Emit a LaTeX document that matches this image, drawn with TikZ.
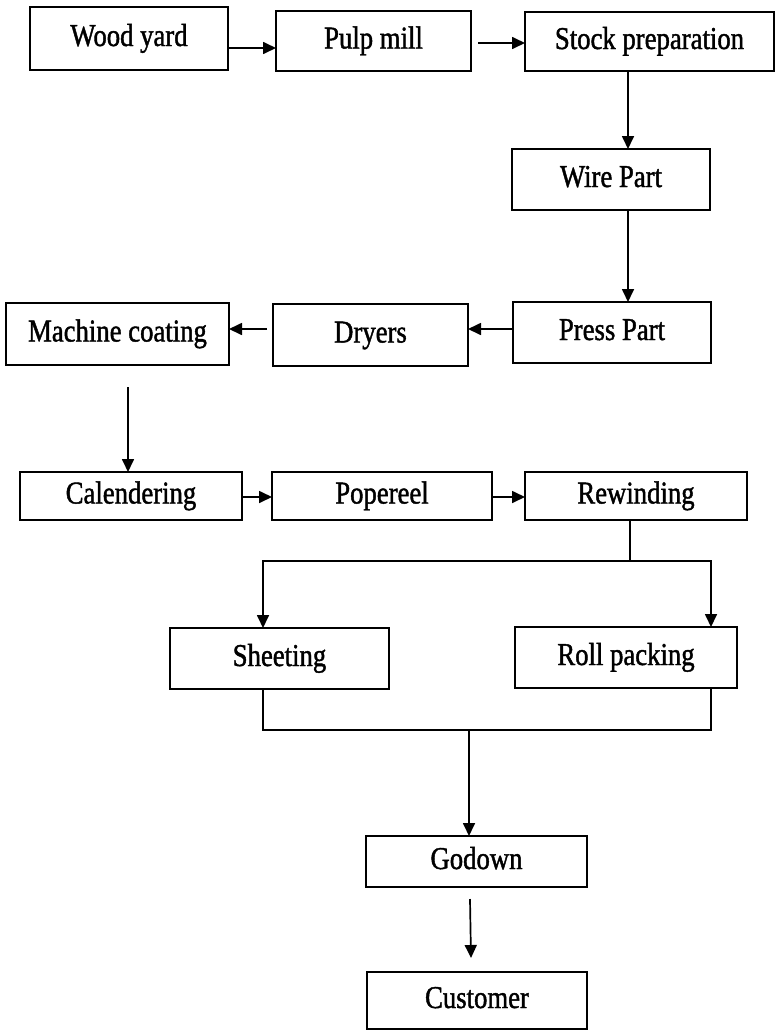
\documentclass[tikz,border=0pt]{standalone}
\usepackage{fontspec}
\setmainfont{Liberation Serif}[FakeStretch=0.84,FakeBold=1.3]
\usetikzlibrary{arrows.meta,calc}
\tikzset{
  pbox/.style={draw, line width=2pt, inner sep=0pt, outer sep=0pt,
    font=\fontsize{31.8}{34}\selectfont, text height=21pt, text depth=6pt},
  conn/.style={line width=1.7pt},
  arr/.style={conn, -{Triangle[length=13pt,width=12pt]}}
}
\newcommand{\pbx}[6]{\node[pbox, minimum width=#4pt, minimum height=#5pt] (#1) at (#2,#3) {#6};}
\begin{document}
\begin{tikzpicture}[x=1pt,y=-1pt]
\useasboundingbox (0,0) rectangle (778,1031);
\pbx{wy}{129}{38.5}{198}{63}{Wood yard}
\pbx{pm}{373.5}{41}{195}{60}{Pulp mill}
\pbx{sp}{649.5}{41.5}{249}{59}{Stock preparation}
\pbx{wp}{611}{179.5}{198}{61}{Wire Part}
\pbx{pp}{612}{332.5}{198}{61}{Press Part}
\pbx{dr}{370.5}{335}{195}{62}{Dryers}
\pbx{mc}{117.5}{334}{223}{62}{Machine coating}
\pbx{cal}{131}{496}{222}{48}{Calendering}
\pbx{pop}{382}{496}{220}{48}{Popereel}
\pbx{rew}{636}{496}{222}{48}{Rewinding}
\pbx{sh}{279.5}{658.5}{219}{61}{Sheeting}
\pbx{rp}{626}{657.5}{222}{61}{Roll packing}
\pbx{gd}{476.5}{861.5}{221}{51}{Godown}
\pbx{cu}{477}{1000.5}{220}{57}{Customer}
% connector start points
\coordinate (a1) at ([yshift=-9.5pt]wy.east);
\coordinate (a2) at ([xshift=7pt,yshift=-2pt]pm.east);
\coordinate (a3) at ([xshift=-21.5pt]sp.south);
\coordinate (a4) at ([xshift=17pt]wp.south);
\coordinate (a5) at ([yshift=3.5pt]pp.west);
\coordinate (a6) at ([xshift=-6pt,yshift=6pt]dr.west);
\coordinate (a7) at ([xshift=10.5pt,yshift=-22pt]mc.south);
\coordinate (a8) at ([yshift=-1pt]cal.east);
\coordinate (a9) at ([yshift=-1pt]pop.east);
\coordinate (a10) at ([xshift=-6pt]rew.south);
\coordinate (a11) at ([xshift=-16.5pt]sh.south);
\coordinate (a12) at ([xshift=85pt]rp.south);
\coordinate (a13) at ([xshift=-6.5pt,yshift=-12pt]gd.south);
\coordinate (e13) at ([xshift=-6pt,yshift=14pt]cu.north);
\coordinate (split) at (630,561);
\coordinate (join) at (469,730);
% top row
\draw[arr] (a1) -- (a1 -| pm.west);
\draw[arr] (a2) -- (a2 -| sp.west);
\draw[arr] (a3) -- (a3 |- wp.north);
\draw[arr] (a4) -- (a4 |- pp.north);
% second row
\draw[arr] (a5) -- (a5 -| dr.east);
\draw[arr] (a6) -- (a6 -| mc.east);
\draw[arr] (a7) -- (a7 |- cal.north);
% third row
\draw[arr] (a8) -- (a8 -| pop.west);
\draw[arr] (a9) -- (a9 -| rew.west);
% split
\draw[conn] (a10) -- (split);
\draw[arr] (split) -| ([xshift=-16.5pt]sh.north);
\draw[arr] (split) -| ([xshift=85pt]rp.north);
% join
\draw[conn] (a11) |- (join);
\draw[conn] (a12) |- (join);
\draw[arr] (join) -- (join |- gd.north);
\draw[arr] (a13) -- (e13);
\end{tikzpicture}
\end{document}
